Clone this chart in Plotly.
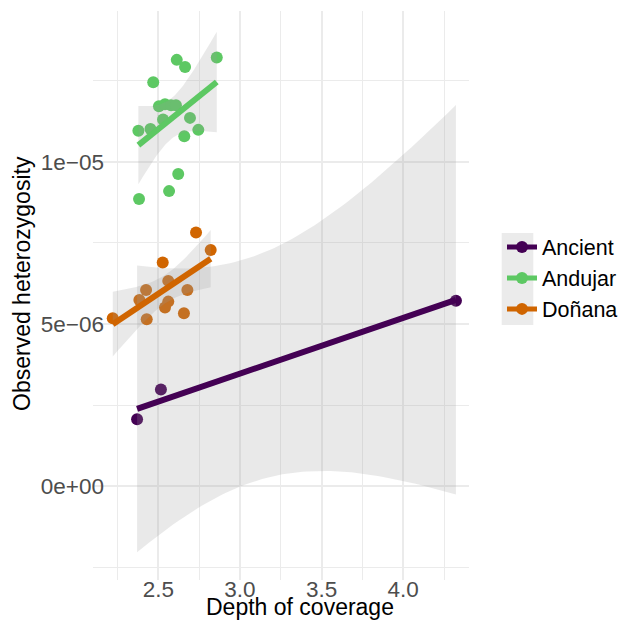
import numpy as np
import plotly.graph_objects as go

# ---------------- data ----------------
groups = ["Ancient", "Andujar", "Doñana"]
colors = {"Ancient": "#440154", "Andujar": "#5DC863", "Doñana": "#D06500"}

ancient_x = [2.37, 2.516, 4.323]
ancient_y = [2.06e-6, 2.98e-6, 5.72e-6]

andujar_x = [2.378, 2.452, 2.469, 2.504, 2.541, 2.578, 2.608, 2.529, 2.613,
             2.664, 2.858, 2.694, 2.659, 2.745, 2.622, 2.566, 2.382]
andujar_y = [10.96e-6, 11.02e-6, 12.46e-6, 11.72e-6, 11.78e-6, 11.75e-6,
             11.75e-6, 11.31e-6, 13.15e-6, 12.93e-6, 13.22e-6, 11.36e-6,
             10.79e-6, 10.99e-6, 9.63e-6, 9.10e-6, 8.86e-6]

donana_x = [2.221, 2.429, 2.384, 2.425, 2.527, 2.561, 2.541, 2.561, 2.678,
            2.657, 2.731, 2.821]
donana_y = [5.175e-6, 5.144e-6, 5.74e-6, 6.05e-6, 6.90e-6, 6.33e-6, 5.51e-6,
            5.69e-6, 6.05e-6, 5.33e-6, 7.82e-6, 7.28e-6]

data = {"Ancient": (ancient_x, ancient_y),
        "Andujar": (andujar_x, andujar_y),
        "Doñana": (donana_x, donana_y)}

x_ticks = [2.5, 3.0, 3.5, 4.0]
x_tick_labels = ["2.5", "3.0", "3.5", "4.0"]
x_minor = [2.25, 2.75, 3.25, 3.75, 4.25]
y_ticks = [0.0, 5e-6, 1e-5]
y_tick_labels = ["0e+00", "5e\u221206", "1e\u221205"]
y_minor = [-2.5e-6, 2.5e-6, 7.5e-6, 1.25e-5]

# two-sided 95% t quantiles by degrees of freedom
T975 = {1: 12.706, 2: 4.303, 3: 3.182, 4: 2.776, 5: 2.571, 6: 2.447, 7: 2.365,
        8: 2.306, 9: 2.262, 10: 2.228, 11: 2.201, 12: 2.179, 13: 2.160,
        14: 2.145, 15: 2.131, 16: 2.120, 17: 2.110, 18: 2.101, 19: 2.093,
        20: 2.086}


def lm_smooth(x, y, n=80):
    x = np.asarray(x, float)
    y = np.asarray(y, float)
    k = len(x)
    xm = x.mean()
    sxx = ((x - xm) ** 2).sum()
    b = ((x - xm) * (y - y.mean())).sum() / sxx
    a = y.mean() - b * xm
    resid = y - (a + b * x)
    s = np.sqrt((resid ** 2).sum() / (k - 2))
    xs = np.linspace(x.min(), x.max(), n)
    fit = a + b * xs
    se = s * np.sqrt(1.0 / k + (xs - xm) ** 2 / sxx)
    t = T975[k - 2]
    return xs, fit, fit - t * se, fit + t * se


fig = go.Figure()

RIB = "rgba(153,153,153,0.22)"

# points layer
for g in groups:
    x, y = data[g]
    fig.add_trace(go.Scatter(x=x, y=y, mode="markers", showlegend=False,
                             marker=dict(color=colors[g], size=12),
                             hoverinfo="skip", legendgroup=g))

# smooth layer (ribbon + line)
for g in groups:
    x, y = data[g]
    xs, fit, lo, hi = lm_smooth(x, y)
    fig.add_trace(go.Scatter(x=np.concatenate([xs, xs[::-1]]),
                             y=np.concatenate([hi, lo[::-1]]),
                             mode="lines", fill="toself", fillcolor=RIB,
                             line=dict(width=0), showlegend=False,
                             hoverinfo="skip", legendgroup=g))
    fig.add_trace(go.Scatter(x=xs, y=fit, mode="lines+markers", name=g,
                             line=dict(color=colors[g], width=6),
                             marker=dict(color=colors[g], size=0.001),
                             legendgroup=g, hoverinfo="skip"))

# ---------------- layout (pixel geometry) ----------------
W, H = 625, 628
ML, MR, MT, MB = 60, 156, 11, 20          # margins
PANEL_L, PANEL_B = 93, 580                # panel left / bottom (px)
YLAB_AXIS, XLAB_AXIS = 104, 573           # where tick labels are anchored
aw = W - ML - MR
ah = H - MT - MB


def px(xp):
    return (xp - ML) / aw


def py(yp):
    return (H - MB - yp) / ah


grid_major = "#EBEBEB"
FONT = "Liberation Sans, Arial, Helvetica, sans-serif"

fig.update_layout(
    width=W, height=H,
    margin=dict(l=ML, r=MR, t=MT, b=MB, autoexpand=False),
    paper_bgcolor="white", plot_bgcolor="white",
    font=dict(family=FONT),
    legend=dict(x=px(502), y=py(278), xanchor="left", yanchor="middle",
                font=dict(size=21.5, color="black"), itemsizing="constant",
                bgcolor="rgba(0,0,0,0)", tracegroupgap=0, traceorder="normal"),
    shapes=[dict(type="rect", xref="paper", yref="paper",
                 x0=px(501.7), x1=px(533.3), y0=py(325), y1=py(233),
                 fillcolor="#EBEBEB", line=dict(width=0), layer="below")],
    annotations=[
        dict(text="Depth of coverage", xref="paper", yref="paper",
             x=px(300), y=py(607), xanchor="center", yanchor="middle",
             showarrow=False, font=dict(size=23, color="black")),
        dict(text="Observed heterozygosity", xref="paper", yref="paper",
             x=px(22), y=py(284), xanchor="center", yanchor="middle",
             textangle=-90, showarrow=False,
             font=dict(size=23, color="black")),
    ],
)

fig.update_xaxes(range=[2.1, 4.403], domain=[px(PANEL_L), 1],
                 anchor="free", position=py(XLAB_AXIS),
                 tickvals=x_ticks, ticktext=x_tick_labels,
                 showgrid=True, gridcolor=grid_major, gridwidth=2.4,
                 zeroline=False, showline=False, ticks="",
                 tickfont=dict(size=22.5, color="#4D4D4D"),
                 minor=dict(tickvals=x_minor, showgrid=True,
                            gridcolor=grid_major, gridwidth=1.3))
fig.update_yaxes(range=[-2.9e-6, 1.4658e-5], domain=[py(PANEL_B), 1],
                 anchor="free", position=px(YLAB_AXIS),
                 tickvals=y_ticks, ticktext=y_tick_labels,
                 showgrid=True, gridcolor=grid_major, gridwidth=2.4,
                 zeroline=False, showline=False, ticks="",
                 tickfont=dict(size=22.5, color="#4D4D4D"),
                 minor=dict(tickvals=y_minor, showgrid=True,
                            gridcolor=grid_major, gridwidth=1.3))

fig.write_html("out.html")
